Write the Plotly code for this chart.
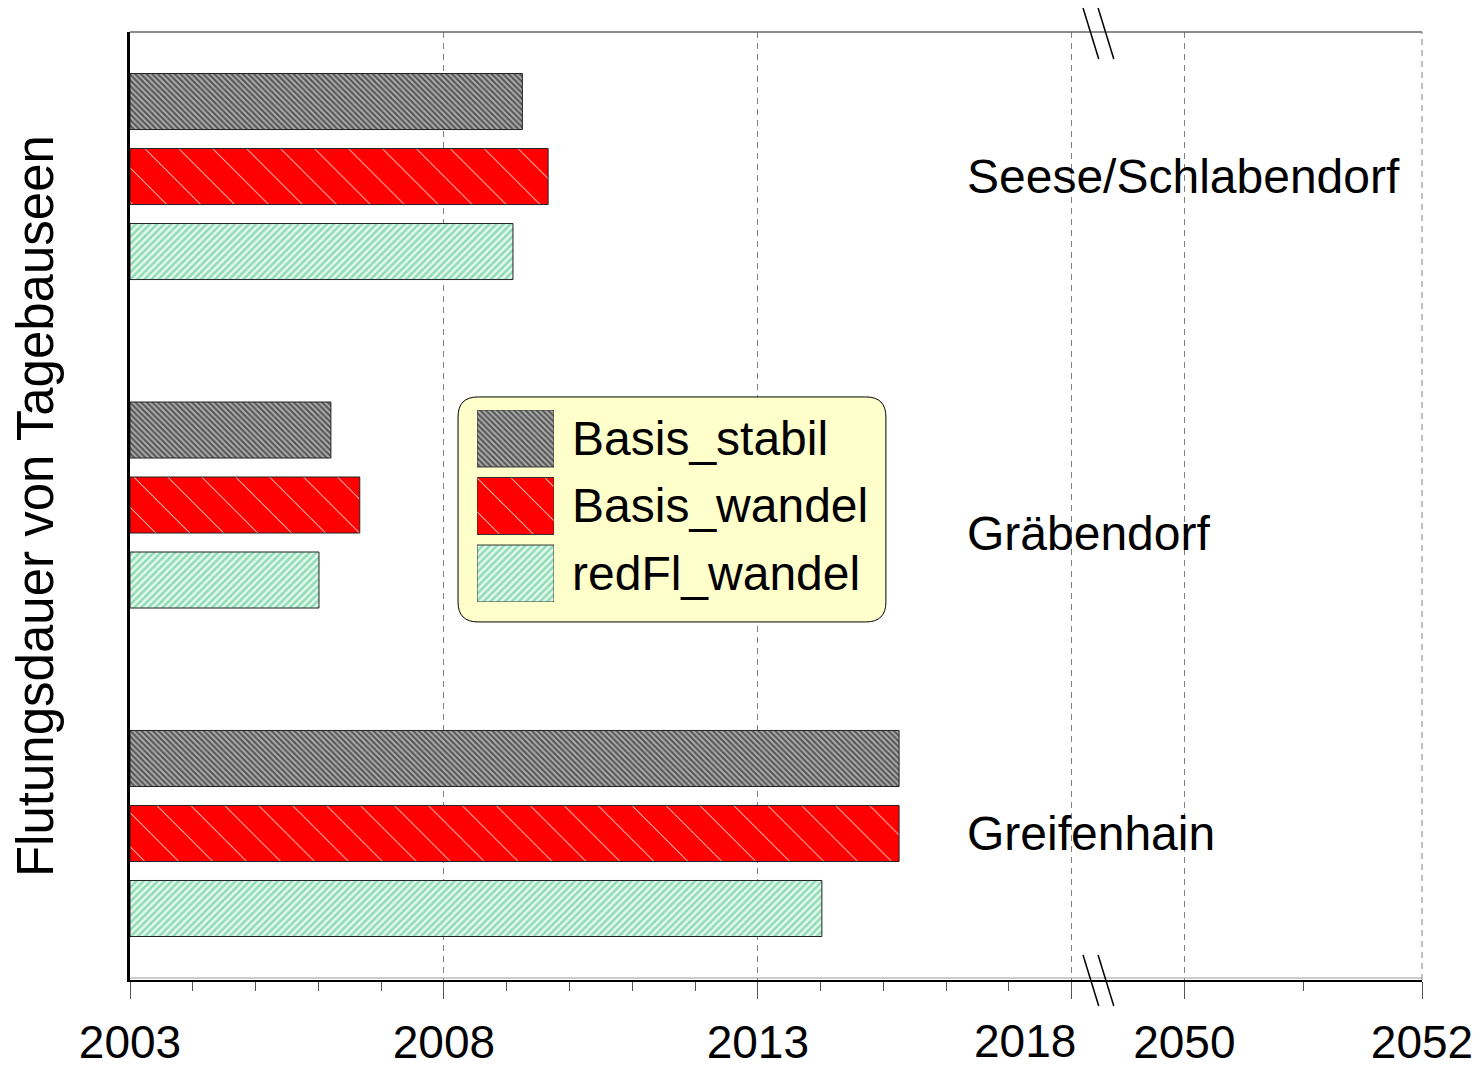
import plotly.graph_objects as go

# --- data -----------------------------------------------------------------
LAKES = ["Seese/Schlabendorf", "Gräbendorf", "Greifenhain"]
SERIES = ["Basis_stabil", "Basis_wandel", "redFl_wandel"]

basis_stabil = [2009.25, 2006.20, 2015.25]
basis_wandel = [2009.66, 2006.66, 2015.25]
redfl_wandel = [2009.10, 2006.01, 2014.02]

MAJOR_YEARS = [2003, 2008, 2013, 2018, 2050, 2052]
MINOR_YEARS = [y for y in range(2004, 2018)] + [2051]
START_YEAR = 2003

# --- broken axis: 2003..2018 linear, then jump to 2050..2052 -------------
SEG1_END = 2018
SEG2_START = 2050
GAP = 1.793        # axis units between 2018 and 2050
SEG2_SCALE = 1.893  # axis units per year after the break


def to_axis(year):
    if year <= SEG1_END + 1:
        return year
    return SEG1_END + GAP + (year - SEG2_START) * SEG2_SCALE


X_MAX = to_axis(2052)
BREAK_POS = SEG1_END + 0.42

FONT = "Liberation Sans, Arial, sans-serif"
TICK_SIZE = 46

STYLES = {
    "Basis_stabil": dict(shape="\\", fgcolor="#b4b4b4", bgcolor="#585858",
                         size=4, solidity=0.45),
    "Basis_wandel": dict(shape="\\", fgcolor="#ffffff", bgcolor="#ff0000",
                         size=24, solidity=0.04),
    "redFl_wandel": dict(shape="/", fgcolor="#8fdcb4", bgcolor="#e4f8ee",
                         size=5, solidity=0.5),
}

fig = go.Figure()

ypos = list(range(len(LAKES)))
for name, vals in zip(SERIES, [basis_stabil, basis_wandel, redfl_wandel]):
    st = STYLES[name]
    fig.add_trace(go.Bar(
        y=ypos,
        x=[to_axis(v) - START_YEAR for v in vals],
        base=START_YEAR,
        orientation="h",
        name=name,
        marker=dict(
            color=st["bgcolor"],
            line=dict(color="#222222", width=1),
            pattern=dict(fillmode="replace", **st),
        ),
        hovertemplate=name + ": %{customdata}<extra></extra>",
        customdata=vals,
    ))

# legend swatches drawn on their own small axes
for name in SERIES:
    st = STYLES[name]
    fig.add_trace(go.Bar(
        y=[name], x=[1],
        orientation="h",
        width=0.844, offset=-0.422,
        xaxis="x2", yaxis="y2",
        showlegend=False, hoverinfo="skip",
        marker=dict(
            color=st["bgcolor"],
            line=dict(color="#333333", width=1),
            pattern=dict(fillmode="replace", **st),
        ),
    ))

annotations = []
label_shift = {"Gräbendorf": 0.088}
for i, lake in enumerate(LAKES):
    annotations.append(dict(
        text=lake, x=0.6463, xref="paper", xanchor="left",
        y=i + label_shift.get(lake, 0), yref="y", yanchor="middle",
        showarrow=False, font=dict(size=48, color="black", family=FONT),
    ))
for s in SERIES:
    annotations.append(dict(
        text=s, x=0.3406, xref="paper", xanchor="left",
        y=s, yref="y2", yanchor="middle",
        showarrow=False, font=dict(size=48, color="black", family=FONT),
    ))
annotations.append(dict(
    text="Flutungsdauer von Tagebauseen", textangle=-90,
    x=-0.0735, xref="paper", xanchor="center",
    y=0.5, yref="paper", yanchor="middle",
    showarrow=False, font=dict(size=51, color="black", family=FONT),
))
# the 2018 label sits left of its tick, clear of the axis break
annotations.append(dict(
    text="2018", x=SEG1_END, xref="x", xanchor="right", xshift=6,
    y=0, yref="paper", yanchor="middle", yshift=-61,
    showarrow=False, font=dict(size=TICK_SIZE, color="black", family=FONT),
))

# rounded legend box (data coordinates of the main axes)
x0, x1, y0, y1 = 2008.225, 2015.04, 0.671, 1.356
rx, ry = 0.32, 0.061
box_path = (
    f"M{x0+rx},{y0} L{x1-rx},{y0} Q{x1},{y0} {x1},{y0+ry} "
    f"L{x1},{y1-ry} Q{x1},{y1} {x1-rx},{y1} "
    f"L{x0+rx},{y1} Q{x0},{y1} {x0},{y1-ry} "
    f"L{x0},{y0+ry} Q{x0},{y0} {x0+rx},{y0} Z"
)
shapes = [dict(type="path", path=box_path, xref="x", yref="y",
               fillcolor="#ffffcc", line=dict(color="black", width=1),
               layer="between")]

# top frame line and the gray companion line on the x axis
shapes.append(dict(type="line", xref="paper", yref="paper", x0=0, x1=1,
                   y0=1, y1=1, line=dict(color="#666666", width=1.5)))
shapes.append(dict(type="line", xref="paper", yref="paper", x0=0, x1=1,
                   ysizemode="pixel", yanchor=0, y0=2, y1=2,
                   line=dict(color="#999999", width=1)))
# dashed grid line on the right edge (2052)
shapes.append(dict(type="line", xref="paper", yref="paper", x0=1, x1=1,
                   y0=0, y1=1, layer="below",
                   line=dict(color="#808080", width=1, dash="6px,5px")))

# axis break marks (//)
span = X_MAX - START_YEAR


def frac(p):
    return (p - START_YEAR) / span


for dx in (-0.24, 0.0):
    xa = frac(BREAK_POS + dx)
    xb = frac(BREAK_POS + dx + 0.25)
    for ya, yb in ((1.0253, 0.9715), (0.0264, -0.0274)):
        shapes.append(dict(type="line", xref="paper", yref="paper",
                           x0=xa, y0=ya, x1=xb, y1=yb,
                           line=dict(color="black", width=1.5)))

ticktext = [str(y) for y in MAJOR_YEARS]
ticktext[3] = ""

fig.update_layout(
    width=1484, height=1069,
    margin=dict(l=130, r=62, t=32, b=89),
    paper_bgcolor="white",
    plot_bgcolor="rgba(0,0,0,0)",
    showlegend=False,
    barmode="group",
    bargap=0.315,
    bargroupgap=0.253,
    font=dict(family=FONT, color="black"),
    annotations=annotations,
    shapes=shapes,
    xaxis=dict(
        range=[START_YEAR, X_MAX],
        tickmode="array",
        tickvals=[to_axis(y) for y in MAJOR_YEARS],
        ticktext=ticktext,
        tickangle=0,
        automargin=False,
        ticklabeloverflow="allow",
        tickfont=dict(size=TICK_SIZE, color="black", family=FONT),
        ticks="outside", ticklen=17, tickwidth=1, tickcolor="#555555",
        ticklabelstandoff=4,
        showgrid=True, gridcolor="#808080", gridwidth=1, griddash="6px,5px",
        showline=True, linecolor="black", linewidth=2,
        zeroline=False,
        minor=dict(tickmode="array",
                   tickvals=[to_axis(y) for y in MINOR_YEARS],
                   ticks="outside", ticklen=9, tickwidth=1,
                   tickcolor="#555555", showgrid=False),
    ),
    yaxis=dict(
        range=[2.446, -0.44],
        showticklabels=False, ticks="",
        showgrid=False, zeroline=False, automargin=False,
        showline=True, linecolor="black", linewidth=2.5,
    ),
    xaxis2=dict(domain=[0.2686, 0.3282], anchor="y2", range=[0, 1],
                visible=False, fixedrange=True),
    yaxis2=dict(domain=[0.3987, 0.6013], anchor="x2",
                categoryorder="array", categoryarray=SERIES,
                range=[2.4222, -0.4222], visible=False, fixedrange=True),
)

fig.write_html("out.html", config={"displayModeBar": False},
               post_script="document.body.style.margin='0';")
